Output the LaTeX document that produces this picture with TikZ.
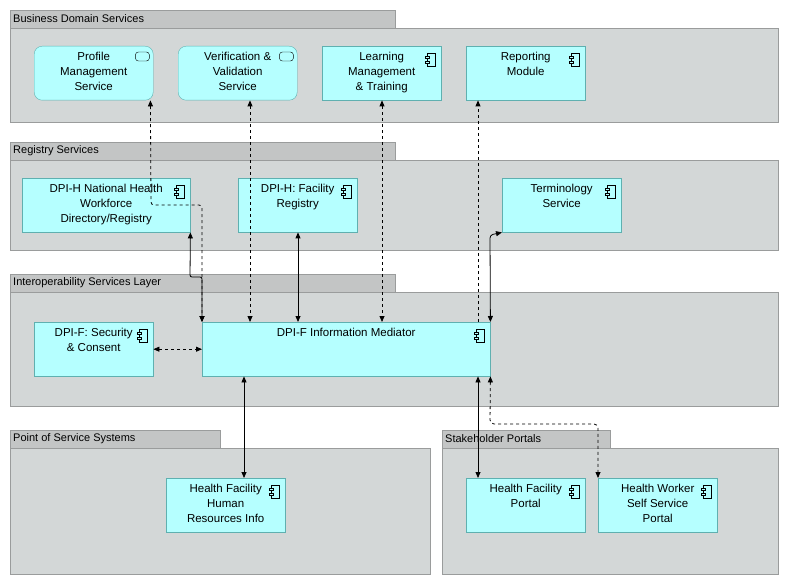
\documentclass[tikz,border=0pt]{standalone}
\usepackage{fontspec}
\setmainfont{Liberation Sans}
\usetikzlibrary{arrows.meta}

\definecolor{appfill}{HTML}{B5FFFF}
\definecolor{appline}{HTML}{5FB0B0}
\definecolor{grpfill}{HTML}{D3D7D7}
\definecolor{tabfill}{HTML}{C3C5C5}
\definecolor{grpline}{HTML}{9A9C9C}

\tikzset{
  grp/.style={draw=grpline,fill=grpfill},
  tab/.style={draw=grpline,fill=tabfill},
  tabtext/.style={anchor=west,inner sep=3pt,font=\fontsize{11}{13}\selectfont},
  app/.style={draw=appline,fill=appfill,anchor=north west,minimum width=119pt,
    minimum height=54pt,inner sep=0pt},
  svc/.style={app,rounded corners=8pt},
  txt/.style={anchor=north,align=center,inner sep=6pt,font=\fontsize{11.5}{14.8}\selectfont},
  flow/.style={{Triangle[length=6pt,width=5pt]}-{Triangle[length=6pt,width=5pt]},thick,black},
  acc/.style={flow,dashed}
}
\newcommand{\compicon}[1]{%
  \draw[black,fill=appfill] ([xshift=-14pt,yshift=-7pt]#1.north east) rectangle ++(8pt,-13pt);
  \draw[black,fill=appfill] ([xshift=-16pt,yshift=-10pt]#1.north east) rectangle ++(4pt,-2.5pt);
  \draw[black,fill=appfill] ([xshift=-16pt,yshift=-15pt]#1.north east) rectangle ++(4pt,-2.5pt);}
\newcommand{\svcicon}[1]{%
  \draw[black,rounded corners=3pt] ([xshift=-18pt,yshift=-6pt]#1.north east) rectangle ++(14pt,-9pt);}

\begin{document}
\begin{tikzpicture}[x=1pt,y=-1pt]
  \useasboundingbox (0,0) rectangle (789,585);

  % groups
  \draw[tab] (10,10) rectangle (395,28);
  \draw[grp] (10,28) rectangle (778,122);
  \node[tabtext] at (10,19) {Business Domain Services};
  \draw[tab] (10,142) rectangle (395,160);
  \draw[grp] (10,160) rectangle (778,250);
  \node[tabtext] at (10,151) {Registry Services};
  \draw[tab] (10,274) rectangle (395,292);
  \draw[grp] (10,292) rectangle (778,406);
  \node[tabtext] at (10,283) {Interoperability Services Layer};
  \draw[tab] (10,430) rectangle (220,448);
  \draw[grp] (10,448) rectangle (430,574);
  \node[tabtext] at (10,439) {Point of Service Systems};
  \draw[tab] (442,430) rectangle (610,448);
  \draw[grp] (442,448) rectangle (778,574);
  \node[tabtext] at (442,439) {Stakeholder Portals};

  % elements
  \node[svc,label={[txt]north:Profile\\Management\\Service}] (profile) at (34,46) {};
  \node[svc,label={[txt]north:Verification \&\\Validation\\Service}] (verify) at (178,46) {};
  \node[app,label={[txt]north:Learning\\Management\\\& Training}] (learn) at (322,46) {};
  \node[app,label={[txt]north:Reporting\\Module}] (report) at (466,46) {};
  \node[app,minimum width=168pt,label={[txt]north:DPI-H National Health\\Workforce\\Directory/Registry}] (hwreg) at (22,178) {};
  \node[app,label={[txt]north:DPI-H: Facility\\Registry}] (facreg) at (238,178) {};
  \node[app,label={[txt]north:Terminology\\Service}] (term) at (502,178) {};
  \node[app,label={[txt]north:DPI-F: Security\\\& Consent}] (secur) at (34,322) {};
  \node[app,minimum width=288pt,label={[txt]north:DPI-F Information Mediator}] (medi) at (202,322) {};
  \node[app,label={[txt]north:Health Facility\\Human\\Resources Info}] (hfhr) at (166,478) {};
  \node[app,label={[txt]north:Health Facility\\Portal}] (hfport) at (466,478) {};
  \node[app,label={[txt]north:Health Worker\\Self Service\\Portal}] (hwport) at (598,478) {};

  \svcicon{profile}
  \svcicon{verify}
  \foreach \n in {learn,report,hwreg,facreg,term,secur,medi,hfhr,hfport,hwport}
    {\compicon{\n}}

  % connectors
  \draw[acc,rounded corners=3pt] ([xshift=-3pt]profile.south east) -- (151,205) -- (202,205) -- (medi.north west);
  \draw[flow,rounded corners=2pt] (hwreg.south east) -- (190,277) -- (202,277) -- (medi.north west);
  \draw[acc] (verify.south -| 250,0) -- (medi.north -| 250,0);
  \draw[flow] (facreg.south -| 298,0) -- (medi.north -| 298,0);
  \draw[acc] (learn.south -| 382,0) -- (medi.north -| 382,0);
  \draw[acc,-{Triangle[length=6pt,width=5pt]}] (medi.north -| 478,0) -- (report.south -| 478,0);
  \draw[flow,rounded corners=3pt] (medi.north east) -- (490,235) -- (term.south west);
  \draw[acc] (secur.east) -- (medi.west |- secur.east);
  \draw[flow] (medi.south -| 244,0) -- (hfhr.north -| 244,0);
  \draw[flow] (medi.south -| 478,0) -- (hfport.north -| 478,0);
  \draw[acc,rounded corners=4pt] (medi.south east) -- (490,424) -- (598,424) -- (hwport.north west);
\end{tikzpicture}
\end{document}
